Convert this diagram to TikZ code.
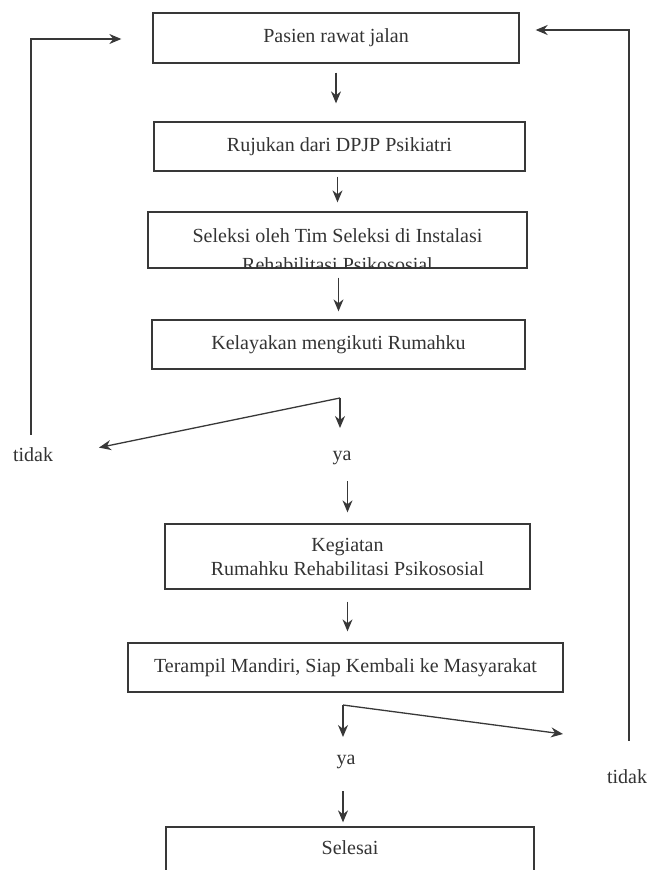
\documentclass[tikz,border=0pt]{standalone}
\usepackage{fontspec}
\setmainfont{Liberation Serif}
\usepackage{tikz}
\usetikzlibrary{arrows.meta}

\begin{document}
\begin{tikzpicture}[x=1pt,y=-1pt,
  ink/.style={draw=black!78,line width=1.3pt},
  proc/.style={ink,rectangle,inner sep=0pt,text=black!80,align=center,
    font=\fontsize{20}{24}\selectfont},
  lbl/.style={text=black!80,font=\fontsize{20}{24}\selectfont,inner sep=1pt},
  arr/.style={ink,-{Stealth[length=12pt,width=10pt]}}]

 \useasboundingbox (0,0) rectangle (660,870);
 \clip (0,0) rectangle (660,870);

 % boxes of the flow
 \node[proc,minimum width=366,minimum height=50] (pasien) at (336,38) {Pasien rawat jalan};
 \node[proc,minimum width=371,minimum height=49] (rujukan) at (339.5,146.5) {Rujukan dari DPJP Psikiatri};
 \node[proc,minimum width=379,minimum height=56] (seleksi) at (337.5,240) {};
 \begin{scope} % second line runs under the border
  \clip (seleksi.south west) rectangle (seleksi.north east);
  \node[lbl,align=center,font=\fontsize{20}{29}\selectfont] (seleksitxt) at (337.5,250) {Seleksi oleh Tim Seleksi di Instalasi\\Rehabilitasi Psikososial};
 \end{scope}
 \node[proc,minimum width=373,minimum height=49] (kelayakan) at (338.5,344.5) {Kelayakan mengikuti Rumahku};
 \node[proc,minimum width=365,minimum height=65] (kegiatan) at (347.5,556.5) {Kegiatan\\Rumahku Rehabilitasi Psikososial};
 \node[proc,minimum width=435,minimum height=49] (terampil) at (345.5,667.5) {Terampil Mandiri, Siap Kembali ke Masyarakat};
 \node[proc,minimum width=368,minimum height=73] (selesai) at (350,863.5) {};
 \node[lbl] (selesaitxt) at (350,848) {Selesai};

 % labels of the two choices
 \node[lbl] (tidak1) at (33,455) {tidak};
 \node[lbl] (ya1) at (342,458) {ya};
 \node[lbl] (ya2) at (346,762) {ya};
 \node[lbl] (tidak2) at (627,777) {tidak};

 \coordinate (d1) at (340,398); % first choice
 \coordinate (d2) at (343,705); % second choice
 \coordinate (loopL) at (31,39);
 \coordinate (loopR) at (629,30);

 % straight steps
 \draw[arr,shorten <=9pt,shorten >=18pt] (pasien.south) -- (pasien.south |- rujukan.north);
 \draw[arr,shorten <=5pt,shorten >=9pt] (rujukan.south -| seleksi.north) -- (seleksi.north);
 \draw[arr,shorten <=9pt,shorten >=8pt] (seleksi.south -| kelayakan.north) -- (kelayakan.north);

 % Kelayakan: ya / tidak
 \draw[arr] (d1) -- ++(0,30);
 \draw[arr,shorten >=2pt] (d1) -- (97,448);
 \draw[arr,shorten <=15pt,shorten >=11pt] (ya1.south -| kegiatan.north) -- (kegiatan.north);
 \draw[arr,shorten <=12pt,shorten >=31pt] (tidak1.north -| loopL) -- (loopL) -- (pasien.west |- loopL);

 \draw[arr,shorten <=12pt,shorten >=11pt] (kegiatan.south) -- (kegiatan.south |- terampil.north);

 % Terampil: ya / tidak
 \draw[arr] (d2) -- ++(0,32);
 \draw[arr] (d2) -- (563,734);
 \draw[arr,shorten <=21pt,shorten >=4pt] (ya2.south -| d2) -- (d2 |- selesai.north);
 \draw[arr,shorten <=28pt,shorten >=16pt] (tidak2.north -| loopR) -- (loopR) -- (pasien.east |- loopR);

\end{tikzpicture}
\end{document}
